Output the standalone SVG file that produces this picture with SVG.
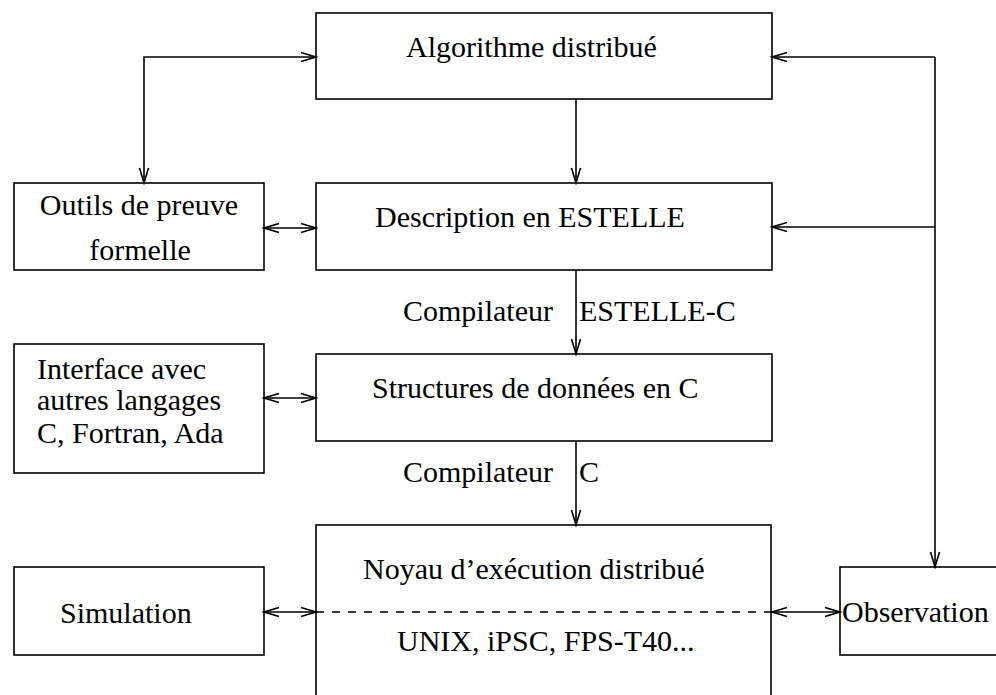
<svg xmlns="http://www.w3.org/2000/svg" width="996" height="695" viewBox="0 0 996 695">
<style>
.box{fill:#fff;stroke:#000;stroke-width:1.6}
.t{font-family:"Liberation Serif","Times New Roman",serif;font-size:30px;fill:#000}
.c{fill:none;stroke:#000;stroke-width:1.6}
.arr{marker-end:url(#ah)}
.dbl{marker-end:url(#ah);marker-start:url(#ahs)}
</style>
<defs>
<marker id="ah" markerUnits="userSpaceOnUse" viewBox="-16 -6 18 12" refX="0" refY="0" markerWidth="18" markerHeight="12" orient="auto" overflow="visible">
<path d="M-15,-4.5 L0,0 L-15,4.5" fill="none" stroke="#000" stroke-width="1.6"/>
</marker>
<marker id="ahs" markerUnits="userSpaceOnUse" viewBox="-16 -6 18 12" refX="0" refY="0" markerWidth="18" markerHeight="12" orient="auto-start-reverse" overflow="visible">
<path d="M-15,-4.5 L0,0 L-15,4.5" fill="none" stroke="#000" stroke-width="1.6"/>
</marker>
</defs>
<rect width="996" height="695" fill="#fff"/>
<g id="algorithme">
<rect class="box" x="316" y="13" width="456" height="86"/>
<text class="t" x="406" y="57">Algorithme distribué</text>
</g>
<g id="outils">
<rect class="box" x="14" y="183" width="250" height="87"/>
<text class="t" x="139" y="215" text-anchor="middle">Outils de preuve</text>
<text class="t" x="140" y="260" text-anchor="middle">formelle</text>
</g>
<g id="description">
<rect class="box" x="316" y="183" width="456" height="87"/>
<text class="t" x="375" y="227">Description en ESTELLE</text>
</g>
<g id="interface">
<rect class="box" x="14" y="344" width="250" height="129"/>
<text class="t" x="37" y="379">Interface avec</text>
<text class="t" x="37" y="410">autres langages</text>
<text class="t" x="37" y="443">C, Fortran, Ada</text>
</g>
<g id="structures">
<rect class="box" x="316" y="354" width="456" height="87"/>
<text class="t" x="372" y="398">Structures de données en C</text>
</g>
<g id="noyau">
<rect class="box" x="316" y="525" width="455" height="190"/>
<text class="t" x="363" y="579">Noyau d’exécution distribué</text>
<line x1="316" y1="612" x2="771" y2="612" stroke="#000" stroke-width="1.4" stroke-dasharray="8 8"/>
<text class="t" x="397" y="651">UNIX, iPSC, FPS-T40...</text>
</g>
<g id="simulation">
<rect class="box" x="14" y="567" width="250" height="88"/>
<text class="t" x="60" y="623">Simulation</text>
</g>
<g id="observation">
<rect class="box" x="840" y="567" width="170" height="88"/>
<text class="t" x="842" y="622">Observation</text>
</g>
<g id="labels">
<text class="t" x="403" y="321">Compilateur</text>
<text class="t" x="579" y="321">ESTELLE-C</text>
<text class="t" x="403" y="482">Compilateur</text>
<text class="t" x="579" y="482">C</text>
</g>
<g id="connectors">
<path class="c dbl" d="M144,183 V57 H316"/>
<path class="c arr" d="M576,99 V183"/>
<path class="c dbl" d="M264,228 H316"/>
<path class="c arr" d="M576,270 V354"/>
<path class="c dbl" d="M264,398 H316"/>
<path class="c arr" d="M576,441 V525"/>
<path class="c dbl" d="M264,612 H316"/>
<path class="c dbl" d="M772,612 H840"/>
<path class="c arr" d="M935,57 V567"/>
<path class="c arr" d="M935,57 H772"/>
<path class="c arr" d="M935,227 H772"/>
</g>
</svg>
